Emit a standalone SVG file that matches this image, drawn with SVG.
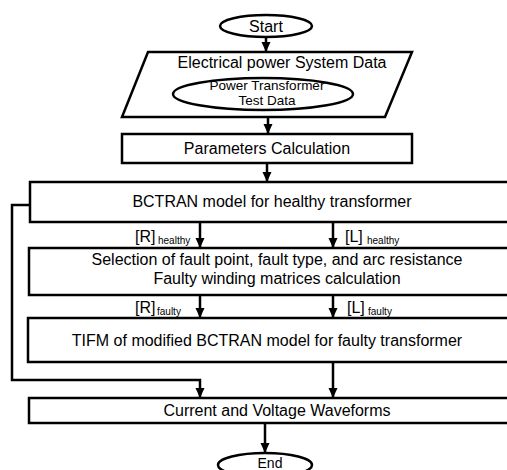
<svg xmlns="http://www.w3.org/2000/svg" width="507" height="470" viewBox="0 0 507 470">
<style>
.box{fill:#fff;stroke:#000;stroke-width:2.5}
.t{font-family:"Liberation Sans",Arial,sans-serif;font-size:16px;fill:#000}
.m{text-anchor:middle}
.s{font-family:"Liberation Sans",Arial,sans-serif;font-size:10px;fill:#000}
.c{fill:none;stroke:#000;stroke-width:2.5}
</style>
<defs>
<marker id="ah" markerUnits="userSpaceOnUse" markerWidth="10" markerHeight="10" viewBox="0 0 10 10" refX="10" refY="5" orient="auto">
<path d="M0,0.5 L10,5 L0,9.5 Z" fill="#000"/>
</marker>
</defs>
<g id="connectors">
<path class="c" d="M266,37 V52" marker-end="url(#ah)"/>
<path class="c" d="M268,117 V134" marker-end="url(#ah)"/>
<path class="c" d="M267,163 V182" marker-end="url(#ah)"/>
<path class="c" d="M200,222 V248" marker-end="url(#ah)"/>
<path class="c" d="M333,222 V248" marker-end="url(#ah)"/>
<path class="c" d="M200,295 V318" marker-end="url(#ah)"/>
<path class="c" d="M333,295 V318" marker-end="url(#ah)"/>
<path class="c" d="M30,205 H12 V380 H200 V398" marker-end="url(#ah)"/>
<path class="c" d="M333,362 V398" marker-end="url(#ah)"/>
<path class="c" d="M265,423 V453" marker-end="url(#ah)"/>
<text class="t" x="135" y="242">[R]</text><text class="s" x="158" y="244">healthy</text>
<text class="t" x="345" y="242">[L]</text><text class="s" x="367" y="244">healthy</text>
<text class="t" x="135" y="313">[R]</text><text class="s" x="157" y="315">faulty</text>
<text class="t" x="347" y="313">[L]</text><text class="s" x="368" y="315">faulty</text>
</g>
<g id="start">
<ellipse class="box" cx="266" cy="26" rx="46" ry="11"/>
<text class="t m" x="266" y="32">Start</text>
</g>
<g id="input">
<polygon class="box" points="148,52 412,52 385,117 122,117"/>
<text class="t m" x="282" y="68">Electrical power System Data</text>
</g>
<g id="testdata">
<ellipse class="box" cx="263" cy="94" rx="90" ry="16"/>
<text class="t m" x="267" y="90" style="font-size:13.5px">Power Transformer</text>
<text class="t m" x="267" y="105" style="font-size:13.5px">Test Data</text>
</g>
<g id="params">
<rect class="box" x="122" y="134" width="290" height="29"/>
<text class="t m" x="267" y="154">Parameters Calculation</text>
</g>
<g id="bctran">
<rect class="box" x="30" y="182" width="490" height="40"/>
<text class="t m" x="272" y="207">BCTRAN model for healthy transformer</text>
</g>
<g id="selection">
<rect class="box" x="29" y="248" width="491" height="47"/>
<text class="t m" x="277" y="265">Selection of fault point, fault type, and arc resistance</text>
<text class="t m" x="277" y="284">Faulty winding matrices calculation</text>
</g>
<g id="tifm">
<rect class="box" x="28" y="318" width="492" height="44"/>
<text class="t m" x="267" y="346">TIFM of modified BCTRAN model for faulty transformer</text>
</g>
<g id="waveforms">
<rect class="box" x="29" y="398" width="491" height="25"/>
<text class="t m" x="277" y="416">Current and Voltage Waveforms</text>
</g>
<g id="end">
<ellipse class="box" cx="265" cy="465" rx="47" ry="12"/>
<text class="t m" x="270" y="468" style="font-size:14px">End</text>
</g>
</svg>
